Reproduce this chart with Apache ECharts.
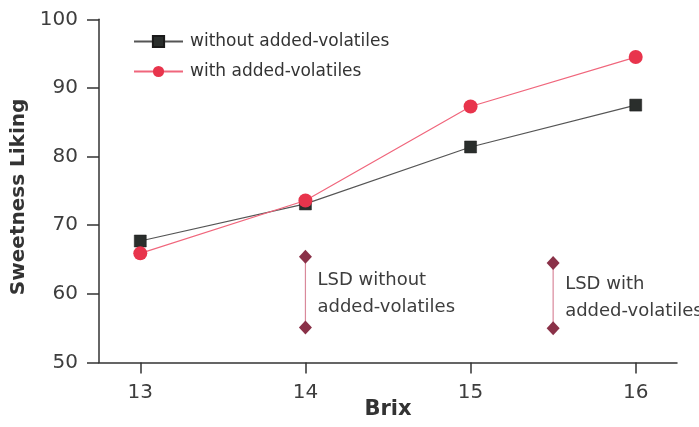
<!DOCTYPE html>
<html>
<head>
<meta charset="utf-8">
<script src="https://cdn.jsdelivr.net/npm/echarts@6/dist/echarts.min.js"></script>
<style>
  html, body { margin: 0; padding: 0; background: #fff; }
  #chart { width: 699px; height: 427px; }
</style>
</head>
<body>
<div id="chart"></div>
<script>
// Brix levels on the x axis
const brix = [13, 14, 15, 16];
// Mean sweetness liking per Brix level
const withoutVolatiles = [67.7, 73.1, 81.4, 87.5];
const withVolatiles = [65.9, 73.6, 87.3, 94.5];
// Least significant difference bars: [x position, upper end, lower end]
const lsdWithout = [14, 65.4, 55.1];
const lsdWith = [15.5, 64.5, 55.0];
// Y axis tick values
const yTicks = [50, 60, 70, 80, 90, 100];

const FONT = 'DejaVu Sans';
const pair = (xs, ys) => xs.map((x, i) => [x, ys[i]]);

function lsdSeries(name, bar, text) {
  const mid = (bar[1] + bar[2]) / 2;
  return {
    name: name,
    type: 'line',
    data: [[bar[0], bar[1]], [bar[0], bar[2]]],
    symbol: 'diamond',
    symbolSize: [13, 14],
    itemStyle: { color: '#8a3148' },
    lineStyle: { color: '#d9899b', width: 1.2 },
    z: 2,
    silent: true,
    markPoint: {
      symbol: 'circle',
      symbolSize: 0,
      silent: true,
      data: [{ coord: [bar[0], mid] }],
      label: {
        show: true,
        position: 'right',
        distance: 12,
        offset: [0, 2],
        formatter: text,
        color: '#3d3d3d',
        fontFamily: FONT,
        fontSize: 18,
        lineHeight: 27,
        align: 'left'
      }
    }
  };
}

const chart = echarts.init(document.getElementById('chart'), null, { renderer: 'canvas' });
chart.setOption({
  animation: false,
  backgroundColor: '#ffffff',
  grid: { left: 99, right: 22, top: 19.3, bottom: 64.5, containLabel: false, outerBoundsMode: 'none' },
  legend: {
    orient: 'vertical',
    left: 133,
    top: 33,
    padding: 0,
    itemWidth: 49,
    itemHeight: 14,
    itemGap: 13,
    data: ['without added-volatiles', 'with added-volatiles'],
    textStyle: { color: '#333', fontFamily: FONT, fontSize: 17, padding: [0, 0, 0, 2] }
  },
  xAxis: {
    type: 'value',
    min: 12.75,
    max: 16.25,
    name: 'Brix',
    nameLocation: 'middle',
    nameGap: 37,
    nameMoveOverlap: false,
    nameTextStyle: { color: '#333', fontFamily: FONT, fontSize: 21, fontWeight: 'bold' },
    axisLine: { show: true, lineStyle: { color: '#333', width: 1.5 } },
    axisTick: { show: true, length: 11, lineStyle: { color: '#333', width: 1.5 }, customValues: brix },
    axisLabel: { color: '#3d3d3d', fontFamily: FONT, fontSize: 20, margin: 20, customValues: brix },
    splitLine: { show: false }
  },
  yAxis: {
    type: 'value',
    min: 50,
    max: 100,
    interval: 10,
    name: 'Sweetness Liking',
    nameLocation: 'middle',
    nameGap: 66,
    nameTextStyle: { color: '#333', fontFamily: FONT, fontSize: 20, fontWeight: 'bold', padding: [0, 12, 0, 0] },
    axisLine: { show: true, lineStyle: { color: '#333', width: 1.5 } },
    axisTick: { show: true, length: 12, lineStyle: { color: '#333', width: 1.5 }, customValues: yTicks },
    axisLabel: { color: '#3d3d3d', fontFamily: FONT, fontSize: 20, margin: 21, customValues: yTicks },
    splitLine: { show: false }
  },
  series: [
    lsdSeries('LSD without', lsdWithout, 'LSD without\nadded-volatiles'),
    lsdSeries('LSD with', lsdWith, 'LSD with\nadded-volatiles'),
    {
      name: 'without added-volatiles',
      type: 'line',
      data: pair(brix, withoutVolatiles),
      symbol: 'rect',
      symbolSize: 12,
      itemStyle: { color: '#2a2e2c', borderColor: '#1a1a1a', borderWidth: 0.5 },
      lineStyle: { color: '#555', width: 1.2 },
      z: 3
    },
    {
      name: 'with added-volatiles',
      type: 'line',
      data: pair(brix, withVolatiles),
      symbol: 'circle',
      symbolSize: 14,
      itemStyle: { color: '#e8344c' },
      lineStyle: { color: '#f0667c', width: 1.2 },
      z: 4
    }
  ]
});
</script>
</body>
</html>
